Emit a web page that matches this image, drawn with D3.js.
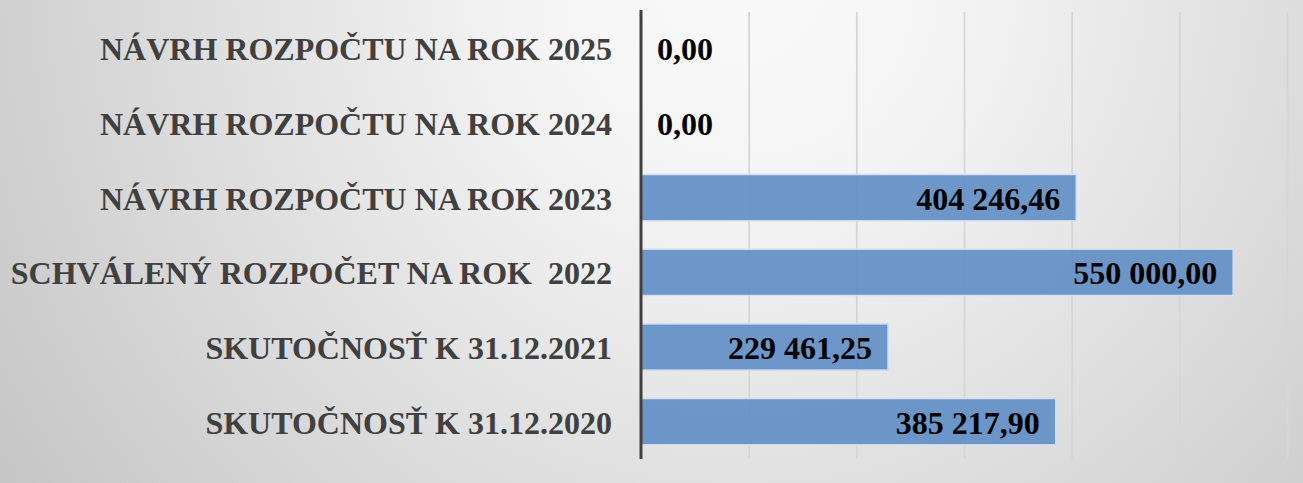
<!DOCTYPE html>
<html>
<head>
<meta charset="utf-8">
<script src="https://cdn.jsdelivr.net/npm/d3@7"></script>
<style>
  html, body { margin: 0; padding: 0; overflow: hidden; }
  svg { display: block; }
  .cat text { font-family: "Liberation Serif", "Times New Roman", serif; font-weight: bold; font-size: 32px; fill: #404040; }
  .val { font-family: "Liberation Serif", "Times New Roman", serif; font-weight: bold; font-size: 32px; fill: #000; }
</style>
</head>
<body>
<svg></svg>
<script>
// data, top row first
var categories = ['NÁVRH ROZPOČTU NA ROK 2025', 'NÁVRH ROZPOČTU NA ROK 2024', 'NÁVRH ROZPOČTU NA ROK 2023',
    'SCHVÁLENÝ ROZPOČET NA ROK  2022', 'SKUTOČNOSŤ K 31.12.2021', 'SKUTOČNOSŤ K 31.12.2020'];
var values = [0, 0, 404246.46, 550000, 229461.25, 385217.90];
var xTicks = [0, 100000, 200000, 300000, 400000, 500000, 600000];

var width = 1303,
    height = 483,
    svg = d3.select('svg')
    .attr('width', width)
    .attr('height', height);

var defs = svg.append('defs');
var bg = defs.append('radialGradient')
    .attr('id', 'bg')
    .attr('gradientUnits', 'userSpaceOnUse')
    .attr('cx', 740).attr('cy', -20).attr('r', 880);
bg.append('stop').attr('offset', 0).attr('stop-color', '#fafafa');
bg.append('stop').attr('offset', 0.25).attr('stop-color', '#f4f4f4');
bg.append('stop').attr('offset', 0.7).attr('stop-color', '#d9d9d9');
bg.append('stop').attr('offset', 1).attr('stop-color', '#c6c6c6');

var gl = defs.append('linearGradient')
    .attr('id', 'grid')
    .attr('gradientUnits', 'userSpaceOnUse')
    .attr('x1', 0).attr('y1', 12).attr('x2', 0).attr('y2', 459);
gl.append('stop').attr('offset', 0).attr('stop-color', '#d6d6d6');
gl.append('stop').attr('offset', 1).attr('stop-color', '#747474');

svg.append('rect')
    .attr('width', width)
    .attr('height', height)
    .attr('fill', 'url(#bg)');

var x = d3.scaleLinear().domain([0, 600000]).range([641, 1287]),
    y = d3.scaleBand().domain(categories).range([11, 459])
    .paddingInner(0.38).paddingOuter(0.19);

var sk = d3.formatLocale({ decimal: ',', thousands: ' ', grouping: [3], currency: ['', ' €'] });
var fmt = sk.format(',.2f');

// vertical gridlines
var grid = svg.append('g')
    .attr('class', 'grid')
    .attr('transform', 'translate(0,459)')
    .call(d3.axisBottom(x).tickValues(xTicks.slice(1)).tickSize(-447).tickFormat(''));
grid.select('.domain').remove();
grid.selectAll('line')
    .attr('stroke', 'url(#grid)')
    .attr('stroke-width', 1.8);

// bars
svg.append('g')
    .selectAll('rect')
    .data(values)
    .enter().append('rect')
    .attr('x', x(0))
    .attr('y', function (d, i) { return y(categories[i]); })
    .attr('width', function (d) { return x(d) - x(0); })
    .attr('height', y.bandwidth())
    .attr('fill', '#6390c6')
    .attr('fill-opacity', 0.93)
    .attr('stroke', '#d2dff0')
    .attr('stroke-width', 1.5)
    .style('display', function (d) { return d > 0 ? null : 'none'; });

// category axis
var yAxis = svg.append('g')
    .attr('class', 'cat')
    .attr('transform', 'translate(' + x(0) + ',0)')
    .call(d3.axisLeft(y).tickSize(0).tickPadding(29));
yAxis.selectAll('text').attr('dy', null).attr('y', 12).style('white-space', 'pre');
yAxis.select('.domain')
    .attr('d', 'M0,10V459')
    .attr('stroke', '#404040')
    .attr('stroke-width', 3);

// value labels
svg.append('g')
    .selectAll('text')
    .data(values)
    .enter().append('text')
    .attr('class', 'val')
    .attr('x', function (d) { return d > 0 ? x(d) - 16 : x(0) + 16; })
    .attr('y', function (d, i) { return y(categories[i]) + y.bandwidth() / 2 + 12; })
    .attr('text-anchor', function (d) { return d > 0 ? 'end' : 'start'; })
    .text(function (d) { return fmt(d); });
</script>
</body>
</html>
